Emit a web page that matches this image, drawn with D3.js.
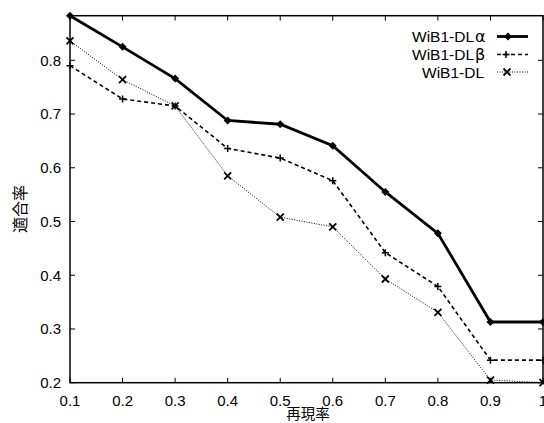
<!DOCTYPE html>
<html><head><meta charset="utf-8">
<script src="https://cdn.jsdelivr.net/npm/d3@7"></script>
<style>body{margin:0;background:#fff}svg{display:block}</style>
</head><body>
<script>
const recall = [0.1,0.2,0.3,0.4,0.5,0.6,0.7,0.8,0.9,1.0];
const alphaVals = [0.883,0.825,0.766,0.688,0.681,0.641,0.555,0.478,0.313,0.313];
const betaVals  = [0.790,0.728,0.715,0.636,0.618,0.576,0.442,0.379,0.242,0.242];
const dlVals    = [0.836,0.764,0.715,0.585,0.508,0.490,0.393,0.331,0.205,0.200];
const seriesNames = ["WiB1-DLα","WiB1-DLβ","WiB1-DL"];
const xTicks = [0.1,0.2,0.3,0.4,0.5,0.6,0.7,0.8,0.9,1];
const yTicks = [0.2,0.3,0.4,0.5,0.6,0.7,0.8];
const xLabel = "再現率", yLabel = "適合率";

const W=544,H=423;
const svg=d3.select("body").append("svg").attr("width",W).attr("height",H);
const x=d3.scaleLinear().domain([0.1,1]).range([70,543]);
const y=d3.scaleLinear().domain([0.2,0.883]).range([382.7,15.7]);
const font="'Liberation Sans', Arial, sans-serif";

// frame
svg.append("rect").attr("x",70).attr("y",15.7).attr("width",473).attr("height",367)
  .attr("fill","none").attr("stroke","#000").attr("stroke-width",1.5);

// ticks (inward, mirrored)
const tl=5;
xTicks.forEach(t=>{
  const px=x(t);
  svg.append("line").attr("x1",px).attr("x2",px).attr("y1",382.7).attr("y2",382.7-tl).attr("stroke","#000");
  svg.append("line").attr("x1",px).attr("x2",px).attr("y1",15.7).attr("y2",15.7+tl).attr("stroke","#000");
  svg.append("text").attr("x",px).attr("y",405.5).attr("text-anchor","middle")
    .attr("font-family",font).attr("font-size",15).text(d3.format("")(t));
});
yTicks.forEach(t=>{
  const py=y(t);
  svg.append("line").attr("x1",70).attr("x2",70+tl).attr("y1",py).attr("y2",py).attr("stroke","#000");
  svg.append("line").attr("x1",543).attr("x2",543-tl).attr("y1",py).attr("y2",py).attr("stroke","#000");
  svg.append("text").attr("x",61).attr("y",py+5.3).attr("text-anchor","end")
    .attr("font-family",font).attr("font-size",15).text(d3.format(".1f")(t));
});

// axis labels
const cjk="'Noto Sans CJK JP', sans-serif";
svg.append("text").attr("x",308).attr("y",419).attr("text-anchor","middle")
  .attr("font-family",cjk).attr("font-size",14.5).text(xLabel);
svg.append("text").attr("transform","translate(26,209) rotate(-90)").attr("text-anchor","middle")
  .attr("font-family",cjk).attr("font-size",16).text(yLabel);

const styles=[
  {vals:alphaVals,w:2.8,dash:null,mark:"diamond"},
  {vals:betaVals,w:1.6,dash:"4,3",mark:"plus"},
  {vals:dlVals,w:1,dash:"1,1.5",mark:"cross"}
];
const line=d3.line().x(d=>x(d[0])).y(d=>y(d[1]));
function marker(g,type,cx,cy){
  if(type==="diamond"){
    g.append("path").attr("d",`M${cx},${cy-4}L${cx+4},${cy}L${cx},${cy+4}L${cx-4},${cy}Z`).attr("fill","#000");
  } else if(type==="plus"){
    g.append("path").attr("d",`M${cx-3.5},${cy}H${cx+3.5}M${cx},${cy-3.5}V${cy+3.5}`).attr("stroke","#000").attr("stroke-width",1.5);
  } else {
    g.append("path").attr("d",`M${cx-3.5},${cy-3.5}L${cx+3.5},${cy+3.5}M${cx-3.5},${cy+3.5}L${cx+3.5},${cy-3.5}`).attr("stroke","#000").attr("stroke-width",1.8);
  }
}
const legY=[36.5,54.5,72], legTextX=[412,412,422], legMark=[508,506,507];
styles.forEach((s,i)=>{
  const data=recall.map((r,j)=>[r,s.vals[j]]);
  const g=svg.append("g");
  g.append("path").attr("d",line(data)).attr("fill","none").attr("stroke","#000")
    .attr("stroke-width",s.w).attr("stroke-dasharray",s.dash);
  data.forEach(d=>marker(g,s.mark,x(d[0]),y(d[1])));
  // legend
  const name=seriesNames[i];
  const txt=svg.append("text").attr("x",legTextX[i]).attr("y",legY[i]+5.5)
    .attr("font-family",font).attr("font-size",15.5);
  txt.append("tspan").text(name.replace(/[αβ]$/,""));
  const greek=name.match(/[αβ]$/);
  if(greek) txt.append("tspan").attr("dx",1).attr("font-family","'DejaVu Sans', sans-serif").attr("font-size",16).text(greek[0]);
  svg.append("line").attr("x1",497).attr("x2",528).attr("y1",legY[i]).attr("y2",legY[i])
    .attr("stroke","#000").attr("stroke-width",s.w).attr("stroke-dasharray",s.dash);
  marker(svg,s.mark,legMark[i],legY[i]);
});
</script>
</body></html>
